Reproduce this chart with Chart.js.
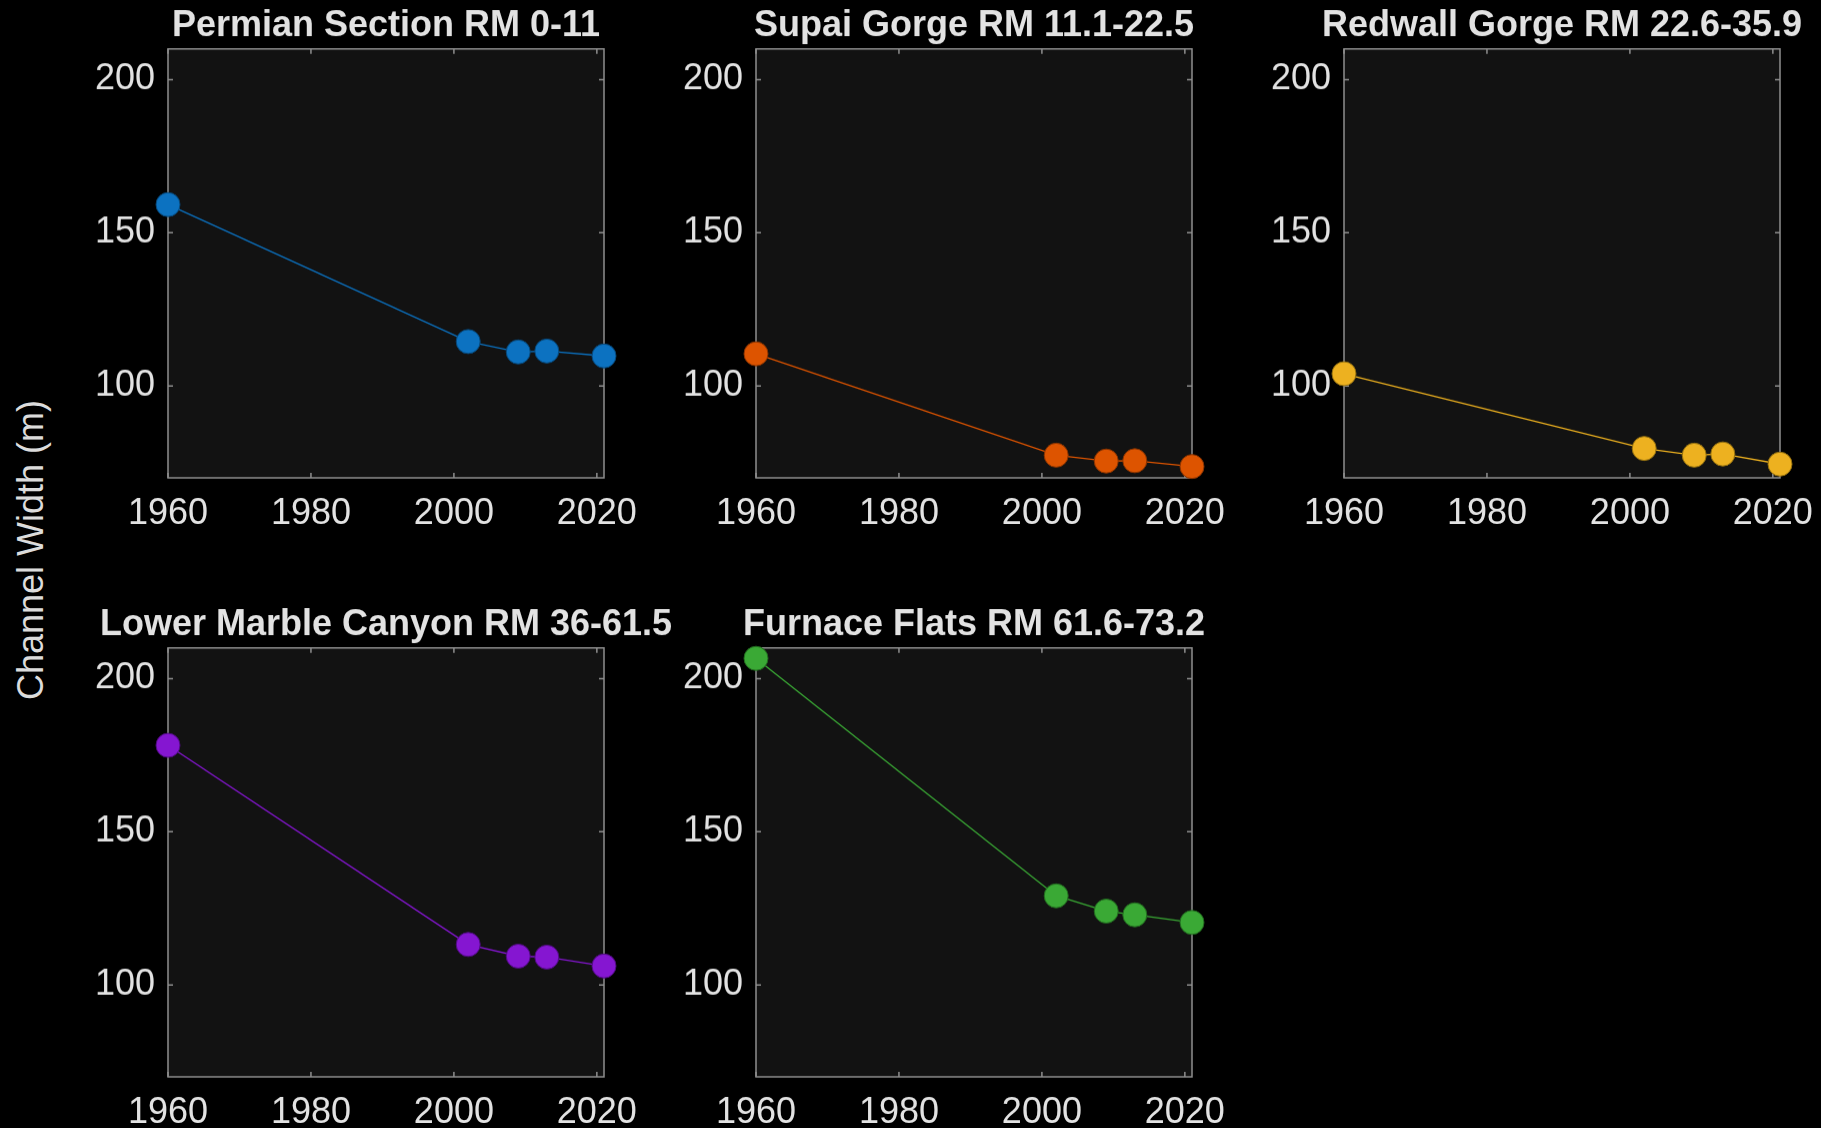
<!DOCTYPE html>
<html>
<head>
<meta charset="utf-8">
<script src="https://cdn.jsdelivr.net/npm/chart.js@4.4.1/dist/chart.umd.min.js"></script>
<style>
  html, body { margin: 0; padding: 0; background: #000; }
  body { width: 1821px; height: 1128px; overflow: hidden; position: relative; font-family: "Liberation Sans", Arial, sans-serif; }
  canvas { position: absolute; }
  #ylabel {
    position: absolute; left: 31px; top: 550px;
    transform: translate(-50%, -50%) rotate(-90deg);
    white-space: nowrap; color: #dcdcdc; font-size: 36px;
  }
</style>
</head>
<body>
<div id="ylabel">Channel Width (m)</div>
<script>
// survey years and channel widths (m) per reach
const years = [1960, 2002, 2009, 2013, 2021];
const permian = [159.2, 114.5, 111.1, 111.4, 109.8];
const supai = [110.5, 77.4, 75.5, 75.6, 73.7];
const redwall = [104.0, 79.6, 77.4, 77.8, 74.5];
const lowerMarble = [178.2, 113.2, 109.4, 109.1, 106.2];
const furnace = [206.6, 129.1, 124.1, 122.9, 120.4];

const titles = [
  'Permian Section RM 0-11',
  'Supai Gorge RM 11.1-22.5',
  'Redwall Gorge RM 22.6-35.9',
  'Lower Marble Canyon RM 36-61.5',
  'Furnace Flats RM 61.6-73.2'
];
const xTicks = [1960, 1980, 2000, 2020];
const yTicks = [100, 150, 200];
const xRange = [1960, 2021];
const yRange = [70, 210];

const colors = ['#0c72c1', '#dd5400', '#edb120', '#8516d1', '#3aa935'];
const edges = ['#07487a', '#8a3400', '#94700f', '#4f0c80', '#226a1f'];

// plot-area placement (px) of each panel
const lefts = [168, 756, 1344, 168, 756];
const tops = [49, 49, 49, 648, 648];
const plotW = 436, plotH = 429;
const pad = 110, titleH = 48.8, xAxisH = 70;

const axisColor = '#8f8f8f';
const textColor = '#e2e2e2';
const tickLen = 5;
const fontFam = '"Liberation Sans", Arial, sans-serif';

const boxPlugin = {
  id: 'matlabBox',
  beforeDraw(chart) {
    const { ctx, chartArea: a } = chart;
    ctx.save();
    ctx.fillStyle = '#121212';
    ctx.fillRect(a.left, a.top, a.right - a.left, a.bottom - a.top);
    ctx.restore();
  },
  beforeDatasetsDraw(chart) {
    const { ctx, chartArea: a, scales: { x, y } } = chart;
    ctx.save();
    ctx.strokeStyle = axisColor;
    ctx.lineWidth = 1.5;
    ctx.strokeRect(a.left, a.top, a.right - a.left, a.bottom - a.top);
    ctx.beginPath();
    xTicks.forEach(v => {
      const px = x.getPixelForValue(v);
      ctx.moveTo(px, a.bottom); ctx.lineTo(px, a.bottom - tickLen);
      ctx.moveTo(px, a.top); ctx.lineTo(px, a.top + tickLen);
    });
    yTicks.forEach(v => {
      const py = y.getPixelForValue(v);
      ctx.moveTo(a.left, py); ctx.lineTo(a.left + tickLen, py);
      ctx.moveTo(a.right, py); ctx.lineTo(a.right - tickLen, py);
    });
    ctx.stroke();
    ctx.restore();
  }
};

const series = [permian, supai, redwall, lowerMarble, furnace];

series.forEach((vals, i) => {
  const cv = document.createElement('canvas');
  const w = pad + plotW + pad;
  const h = titleH + plotH + xAxisH;
  cv.width = w; cv.height = h;
  cv.style.left = (lefts[i] - pad) + 'px';
  cv.style.top = (tops[i] - titleH) + 'px';
  cv.style.width = w + 'px'; cv.style.height = h + 'px';
  document.body.appendChild(cv);

  new Chart(cv, {
    type: 'line',
    data: {
      datasets: [{
        data: years.map((yr, k) => ({ x: yr, y: vals[k] })),
        borderColor: colors[i],
        borderWidth: 1.3,
        pointRadius: 12,
        pointHoverRadius: 12,
        pointBackgroundColor: colors[i],
        pointBorderColor: edges[i],
        pointBorderWidth: 1,
        tension: 0,
        clip: false
      }]
    },
    options: {
      responsive: false,
      animation: false,
      events: [],
      layout: { padding: 0 },
      plugins: {
        legend: { display: false },
        tooltip: { enabled: false },
        title: {
          display: true,
          text: titles[i],
          color: textColor,
          font: { family: fontFam, size: 36, weight: 'bold', lineHeight: 1.2 },
          padding: { top: 4, bottom: 1.6 }
        }
      },
      scales: {
        x: {
          type: 'linear',
          min: xRange[0], max: xRange[1],
          grid: { display: false },
          border: { display: false },
          afterBuildTicks: s => { s.ticks = xTicks.map(v => ({ value: v })); },
          afterFit: s => { s.height = xAxisH; },
          ticks: {
            color: textColor,
            padding: 6,
            maxRotation: 0,
            autoSkip: false,
            font: { family: fontFam, size: 36 },
            callback: v => String(v)
          }
        },
        y: {
          min: yRange[0], max: yRange[1],
          grid: { display: false },
          border: { display: false },
          afterBuildTicks: s => { s.ticks = yTicks.map(v => ({ value: v })); },
          afterFit: s => { s.width = pad; },
          ticks: {
            color: textColor,
            padding: 5,
            font: { family: fontFam, size: 36 },
            callback: v => String(v)
          }
        },
        // empty right-hand axis, keeps the plot centred under its title
        yRight: {
          position: 'right',
          min: yRange[0], max: yRange[1],
          grid: { display: false },
          border: { display: false },
          ticks: { display: false },
          afterFit: s => { s.width = pad; }
        }
      }
    },
    plugins: [boxPlugin]
  });
});
</script>
</body>
</html>
